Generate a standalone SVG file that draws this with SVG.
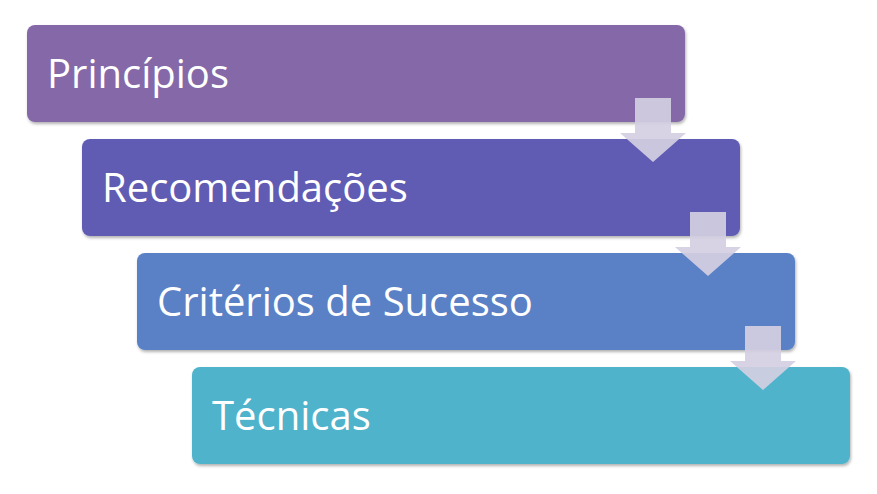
<svg xmlns="http://www.w3.org/2000/svg" width="877" height="494" viewBox="0 0 877 494">
<defs><filter id="sh" x="-5%" y="-10%" width="110%" height="130%"><feDropShadow dx="1" dy="2" stdDeviation="1.5" flood-opacity="0.3"/></filter>
<path id="arr" d="M15 0H51V35H66L33 64L0 35H15Z"/></defs>
<style>.b{filter:url(#sh)}.t{font-family:"Open Sans","Liberation Sans",sans-serif;font-size:40px;fill:#fff}.a{fill:#d4cfe2;opacity:0.92}</style>
<rect width="877" height="494" fill="#fff"/>
<g id="n1"><rect class="b" x="27" y="25" width="658" height="97" rx="8" fill="#8468a8"/><text class="t" x="47" y="88">Princípios</text></g>
<g id="n2"><rect class="b" x="82" y="139" width="658" height="97" rx="8" fill="#605cb4"/><text class="t" x="102" y="202">Recomendações</text></g>
<g id="n3"><rect class="b" x="137" y="253" width="658" height="97" rx="8" fill="#5a80c6"/><text class="t" x="157" y="316">Critérios de Sucesso</text></g>
<g id="n4"><rect class="b" x="192" y="367" width="658" height="97" rx="8" fill="#4fb3cc"/><text class="t" x="212" y="430">Técnicas</text></g>
<g id="connectors">
<use href="#arr" class="a" x="620" y="98"/>
<use href="#arr" class="a" x="675" y="212"/>
<use href="#arr" class="a" x="730" y="326"/>
</g>
</svg>
